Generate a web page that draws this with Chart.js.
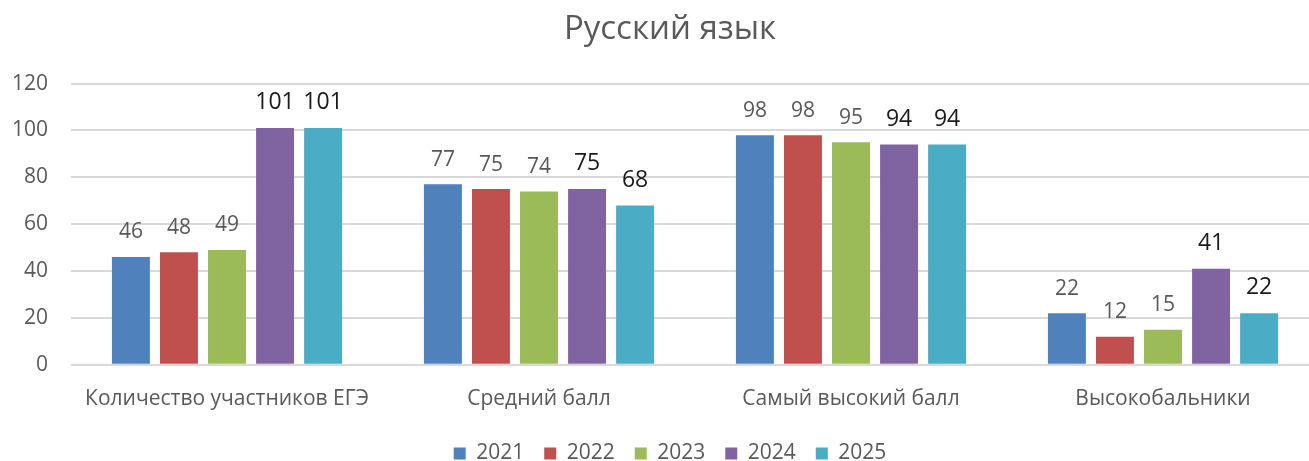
<!DOCTYPE html>
<html>
<head>
<meta charset="utf-8">
<script src="https://cdn.jsdelivr.net/npm/chart.js@4/dist/chart.umd.min.js"></script>
<style>
  html, body { margin: 0; padding: 0; background: #fff; overflow: hidden; }
  #wrap { width: 1340px; height: 461px; }
</style>
</head>
<body>
<div id="wrap"><canvas id="c" width="1340" height="461"></canvas></div>
<script>
const title = "Русский язык";
const categories = ["Количество участников ЕГЭ", "Средний балл", "Самый высокий балл", "Высокобальники"];
const years = ["2021", "2022", "2023", "2024", "2025"];
const v2021 = [46, 77, 98, 22];
const v2022 = [48, 75, 98, 12];
const v2023 = [49, 74, 95, 15];
const v2024 = [101, 75, 94, 41];
const v2025 = [101, 68, 94, 22];
const colors = ["#4f81bd", "#c0504d", "#9bbb59", "#8064a2", "#4bacc6"];
const series = [v2021, v2022, v2023, v2024, v2025];

const FONT = "'Open Sans', 'Noto Sans', sans-serif";

const labelPlugin = {
  id: 'valueLabels',
  afterDatasetsDraw(chart) {
    const ctx = chart.ctx;
    ctx.save();
    ctx.textAlign = 'center';
    ctx.textBaseline = 'bottom';
    chart.data.datasets.forEach((ds, i) => {
      const meta = chart.getDatasetMeta(i);
      const dark = i >= 3;
      ctx.font = (dark ? '23px ' : '21px ') + FONT;
      ctx.fillStyle = dark ? '#1a1a1a' : '#595959';
      meta.data.forEach((el, j) => {
        ctx.fillText(String(ds.data[j]), el.x, el.y - 14);
      });
    });
    ctx.restore();
  }
};

new Chart(document.getElementById('c'), {
  type: 'bar',
  data: {
    labels: categories,
    datasets: series.map((d, i) => ({
      label: years[i],
      data: d,
      backgroundColor: colors[i],
      borderColor: colors[i],
      borderWidth: 0,
      categoryPercentage: 0.77,
      barPercentage: 0.79
    }))
  },
  options: {
    responsive: false,
    animation: false,
    layout: { padding: { left: 0, right: 0, top: 0, bottom: -13 } },
    plugins: {
      title: {
        display: true,
        text: title,
        color: '#595959',
        font: { family: FONT, size: 33, weight: 'normal' },
        padding: { top: 10, bottom: 34 }
      },
      legend: {
        position: 'bottom',
        labels: {
          color: '#595959',
          font: { family: FONT, size: 21 },
          boxWidth: 12,
          boxHeight: 12,
          padding: 20
        }
      },
      tooltip: { enabled: false }
    },
    scales: {
      x: {
        grid: { display: false },
        border: { display: false },
        ticks: { color: '#595959', font: { family: FONT, size: 21 }, padding: 14 },
        afterFit(scale) { scale.height = scale.height - 3; }
      },
      y: {
        min: 0,
        max: 120,
        ticks: { stepSize: 20, color: '#595959', font: { family: FONT, size: 21 }, padding: 23 },
        grid: { color: '#d9d9d9', lineWidth: 2, drawTicks: false },
        border: { display: false },
        afterFit(scale) { scale.width = 71; }
      },
      yRight: {
        position: 'right',
        display: true,
        min: 0,
        max: 120,
        grid: { display: false, drawTicks: false },
        ticks: { display: false },
        border: { display: false },
        afterFit(scale) { scale.width = 21; }
      }
    }
  },
  plugins: [labelPlugin]
});
</script>
</body>
</html>
